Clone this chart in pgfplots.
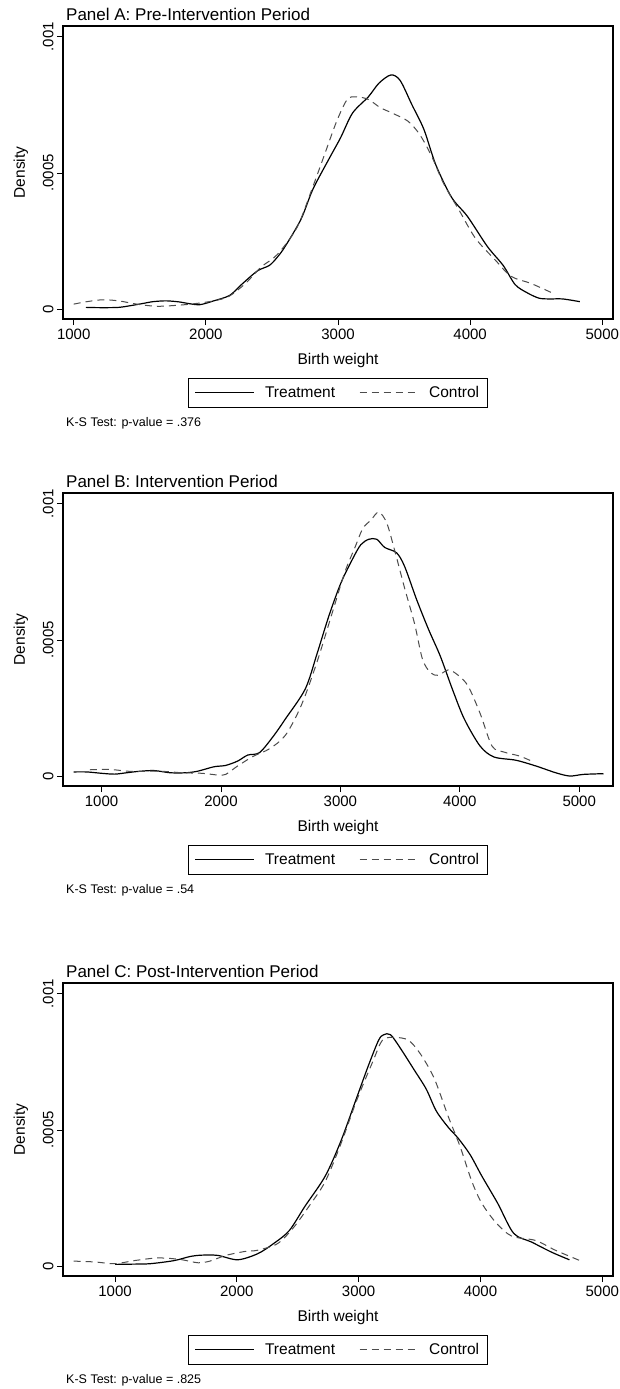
\documentclass[border=0pt]{standalone}
\usepackage{fontspec}
\setmainfont{Liberation Sans}
\usepackage{pgfplots}
\pgfplotsset{compat=1.18}
\begin{document}
\begin{tikzpicture}
\path[use as bounding box] (0pt,0pt) rectangle (620pt,-1389pt);
\pgfplotsset{
  panel/.style={
    scale only axis, width=550pt, height=293pt,
    anchor=north west, clip mode=individual,
    ymin=-0.0000367, ymax=0.00104,
    scaled x ticks=false, scaled y ticks=false,
    xtick={1000,2000,3000,4000,5000},
    xticklabels={1000,2000,3000,4000,5000},
    ytick={0,0.0005,0.001},
    yticklabels={0,.0005,.001},
    xtick pos=bottom, ytick pos=left,
    tick align=outside, major tick length=6pt,
    every tick/.style={black, line width=0.9pt},
    axis line style={line width=1.1pt},
    /pgf/number format/assume math mode=true,
    tick label style={font=\fontsize{15}{18}\selectfont},
    y tick label style={rotate=90, anchor=south},
    xlabel={Birth weight}, ylabel={Density},
    label style={font=\fontsize{15.5}{18}\selectfont},
    xlabel style={at={(axis description cs:0.5,-0.14)}, anchor=center},
    ylabel style={at={(axis description cs:-0.0764,0.5)}, anchor=center, rotate=0},
    every axis title shift=0pt,
    title style={at={(axis description cs:0,1)}, anchor=base west, xshift=3pt, yshift=5.5pt, inner sep=0pt, font=\fontsize{17}{20}\selectfont},
    legend style={at={(axis description cs:0.5,-0.2014)}, anchor=north, legend columns=2,
      draw=black, line width=0.9pt, font=\fontsize{15.5}{18}\selectfont,
      inner xsep=6pt, inner ysep=6pt,
      /tikz/every odd column/.append style={column sep=8pt},
      /tikz/every even column/.append style={column sep=22pt}},
    legend cell align=left,
    legend image code/.code={\draw[#1] (0pt,0pt) -- (59pt,0pt);},
  },
  tr/.style={black, line width=1.2pt, smooth, no markers},
  ct/.style={black!70, line width=1.0pt, dash pattern=on 7pt off 5pt, smooth, no markers},
}
% Panel A
\begin{axis}[panel, at={(63pt,-26pt)}, xmin=919, xmax=5081,
  title={Panel A: Pre-Intervention Period}]
\addplot[tr] coordinates {(1093,0.000006)(1200,0.000005)(1340,0.000006)(1450,0.000014)(1520,0.00002)(1600,0.000027)(1700,0.00003)(1800,0.000026)(1870,0.00002)(1955,0.000016)(2060,0.00003)(2180,0.00005)(2270,0.00009)(2390,0.00014)(2480,0.00016)(2540,0.00019)(2600,0.00023)(2720,0.00033)(2810,0.00044)(2930,0.00055)(3020,0.00063)(3110,0.00072)(3230,0.00078)(3310,0.00083)(3400,0.00086)(3470,0.00084)(3560,0.00075)(3650,0.00066)(3740,0.00053)(3860,0.00041)(3980,0.00034)(4130,0.00023)(4250,0.00016)(4340,0.00009)(4430,0.00006)(4520,0.00004)(4600,0.000037)(4700,0.000037)(4830,0.000027)};
\addlegendentry{Treatment}
\addplot[ct] coordinates {(1000,0.000018)(1100,0.000027)(1220,0.000034)(1340,0.00003)(1440,0.000021)(1520,0.000015)(1640,0.00001)(1820,0.000015)(1970,0.000023)(2090,0.000033)(2180,0.000048)(2300,0.000094)(2420,0.000155)(2540,0.0002)(2690,0.0003)(2810,0.00045)(2900,0.00057)(2990,0.00069)(3070,0.00077)(3140,0.00078)(3230,0.00077)(3320,0.00074)(3410,0.00072)(3530,0.00069)(3620,0.00064)(3710,0.00056)(3800,0.00046)(3920,0.00036)(4040,0.00026)(4190,0.00018)(4310,0.00012)(4460,0.000094)(4630,0.000057)};
\addlegendentry{Control}
\node[anchor=base west, inner sep=0pt, font=\fontsize{12.5}{15}\selectfont] at ([xshift=3pt,yshift=-107.5pt]rel axis cs:0,0) {K-S Test: p-value = .376};
\end{axis}
% Panel B
\begin{axis}[panel, at={(63pt,-493pt)}, xmin=677.5, xmax=5282.6,
  title={Panel B: Intervention Period}]
\addplot[tr] coordinates {(767,0.000015)(877,0.000015)(1000,0.00001)(1110,0.000007)(1210,0.000012)(1310,0.000017)(1440,0.00002)(1575,0.000012)(1708,0.000012)(1808,0.000018)(1941,0.000034)(2040,0.000039)(2140,0.000055)(2224,0.000077)(2323,0.000086)(2440,0.000147)(2540,0.00021)(2706,0.00032)(2805,0.00045)(2905,0.00059)(3005,0.00071)(3105,0.0008)(3171,0.00085)(3238,0.00087)(3305,0.00087)(3371,0.00084)(3471,0.00082)(3538,0.00077)(3637,0.00065)(3737,0.00054)(3837,0.00044)(3937,0.00032)(4037,0.00021)(4170,0.00011)(4286,0.00007)(4470,0.000058)(4636,0.000037)(4803,0.000012)(4920,0.0)(5036,0.000006)(5203,0.0000086)};
\addlegendentry{Treatment}
\addplot[ct] coordinates {(903,0.000023)(1076,0.000024)(1243,0.000017)(1476,0.000018)(1675,0.000012)(1841,0.00001)(1974,0.0000037)(2040,0.000006)(2140,0.000037)(2273,0.000073)(2406,0.0001)(2540,0.00015)(2673,0.00026)(2805,0.00042)(2939,0.00061)(3038,0.00075)(3122,0.00084)(3188,0.00091)(3255,0.00094)(3321,0.00097)(3388,0.00093)(3454,0.00083)(3538,0.00069)(3621,0.00056)(3687,0.00043)(3754,0.00038)(3820,0.00037)(3904,0.00039)(3987,0.00037)(4070,0.00033)(4170,0.00023)(4270,0.00011)(4370,0.000088)(4503,0.000073)(4620,0.000051)};
\addlegendentry{Control}
\node[anchor=base west, inner sep=0pt, font=\fontsize{12.5}{15}\selectfont] at ([xshift=3pt,yshift=-107.5pt]rel axis cs:0,0) {K-S Test: p-value = .54};
\end{axis}
% Panel C
\begin{axis}[panel, at={(63pt,-983pt)}, xmin=573, xmax=5088,
  title={Panel C: Post-Intervention Period}]
\addplot[tr] coordinates {(1000,0.000006)(1150,0.000007)(1290,0.0000086)(1486,0.00002)(1616,0.000035)(1714,0.00004)(1844,0.000039)(2007,0.000023)(2170,0.000045)(2300,0.000082)(2430,0.00013)(2560,0.00022)(2725,0.00033)(2855,0.00046)(2985,0.00062)(3083,0.00074)(3164,0.00083)(3206,0.00085)(3262,0.00085)(3343,0.0008)(3457,0.00072)(3555,0.00065)(3637,0.00057)(3735,0.00051)(3816,0.00047)(3914,0.00041)(4012,0.00033)(4142,0.00023)(4273,0.00012)(4420,0.000088)(4583,0.000051)(4730,0.000023)};
\addlegendentry{Treatment}
\addplot[ct] coordinates {(661,0.000018)(834,0.000015)(997,0.0000086)(1160,0.00002)(1323,0.000029)(1421,0.000029)(1551,0.000023)(1681,0.000012)(1779,0.000018)(1909,0.000039)(2072,0.000054)(2170,0.000058)(2333,0.000082)(2463,0.00014)(2593,0.00022)(2725,0.00031)(2855,0.00045)(2985,0.00061)(3115,0.00075)(3196,0.00083)(3294,0.00084)(3408,0.00083)(3506,0.00078)(3620,0.00069)(3735,0.00055)(3832,0.00044)(3930,0.00031)(4012,0.00023)(4126,0.00016)(4256,0.00011)(4452,0.000094)(4615,0.000058)(4811,0.000021)};
\addlegendentry{Control}
\node[anchor=base west, inner sep=0pt, font=\fontsize{12.5}{15}\selectfont] at ([xshift=3pt,yshift=-107.5pt]rel axis cs:0,0) {K-S Test: p-value = .825};
\end{axis}
\end{tikzpicture}
\end{document}
